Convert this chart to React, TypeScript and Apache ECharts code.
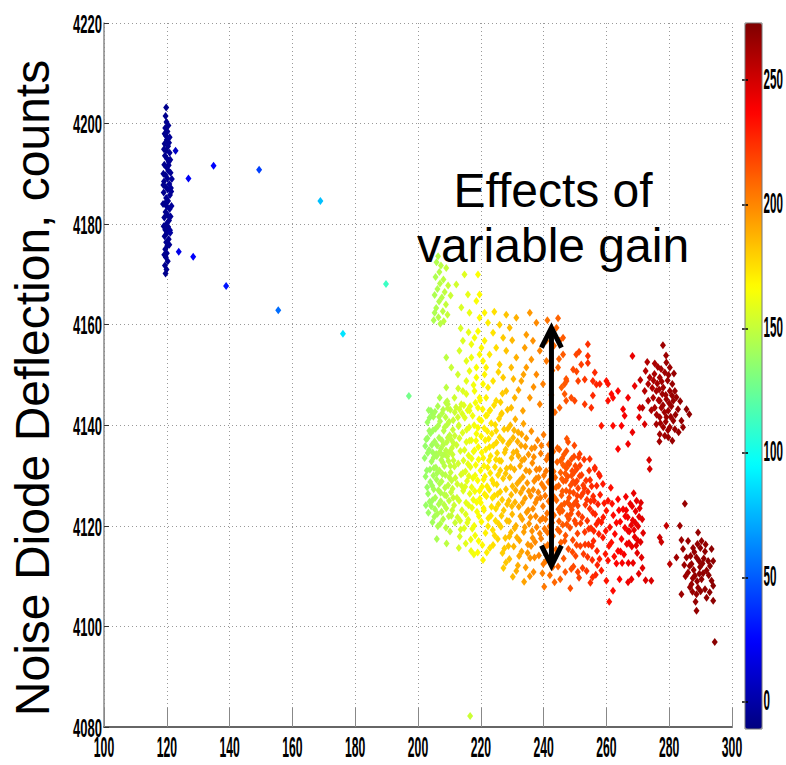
import React, { useEffect, useRef } from 'react';
import * as echarts from 'echarts';

// ---------- data: [x (gain-related), noise diode deflection (counts), colour value] ----------
const blueCluster = [
  [119.8,4203.2,-7],[119.6,4201.5,-7],[119.9,4200.3,-6],[119.5,4199.1,-7],[120.2,4198.4,-6],[119.7,4197.6,-7],[120.0,4196.8,-6],[119.3,4196.0,-7],
  [120.4,4195.5,-6],[119.8,4194.7,-7],[120.9,4194.2,-5],[119.4,4193.6,-7],[120.1,4193.0,-6],[120.6,4192.4,-6],[119.2,4191.8,-7],[119.9,4191.3,-6],
  [120.5,4190.6,-6],[121.2,4190.2,-5],[119.6,4189.7,-7],[120.2,4189.1,-6],[119.1,4188.5,-7],[120.8,4188.0,-5],[119.7,4187.4,-7],[120.3,4186.9,-6],
  [119.0,4186.3,-7],[121.0,4185.8,-5],[119.8,4185.2,-6],[120.4,4184.6,-6],[119.4,4184.1,-7],[120.0,4183.5,-6],[120.9,4183.0,-5],[119.6,4182.4,-7],
  [120.3,4181.8,-6],[119.2,4181.3,-7],[120.7,4180.7,-6],[119.9,4180.1,-6],[120.4,4179.5,-6],[119.5,4178.9,-7],[120.1,4178.3,-6],[119.3,4177.6,-7],
  [120.6,4177.0,-6],[119.8,4176.4,-6],[120.2,4175.7,-6],[119.5,4175.0,-7],[120.0,4174.2,-6],[119.7,4173.4,-7],[120.3,4172.6,-6],[119.4,4171.8,-7],
  [119.9,4171.0,-6],[119.6,4170.2,-7],[120.5,4199.6,-6],[119.3,4198.0,-7],[120.7,4196.2,-6],[121.1,4192.8,-5],[118.9,4190.0,-7],[121.3,4187.2,-5],
  [118.8,4184.0,-7],[121.2,4181.5,-5],[119.0,4179.6,-7],[120.8,4175.9,-6],[121.4,4186.5,-5],[120.6,4191.7,-6],[119.1,4194.9,-7],[121.6,4189.0,-4],
  [121.5,4183.6,-4],[118.9,4187.8,-7],[121.0,4178.8,-5],[119.2,4173.9,-7],[120.9,4197.3,-5]
];

const sparsePoints = [
  [122.8,4194.6,8],[126.9,4189.1,22],[134.9,4191.6,25],[149.4,4190.8,42],[168.9,4184.6,78],[121.1,4178.3,-2],
  [123.8,4174.5,18],[128.4,4173.5,24],[138.9,4167.7,30],[155.5,4162.9,55],[176.1,4158.2,88],[189.8,4168.1,112],
  [197.1,4145.8,128],[216.6,4082.2,152]
];

const greenTail = [
  [206.4,4173.6,146],[205.9,4172.4,145],[207.3,4171.8,147],[209.0,4171.3,150],[206.8,4170.5,146],[205.6,4169.5,144],[208.1,4169.0,148],[207.0,4168.2,147],
  [209.6,4167.8,151],[206.2,4167.1,145],[208.5,4166.5,149],[205.3,4165.9,144],[207.6,4165.4,147],[210.4,4165.8,152],[206.7,4164.6,146],[208.9,4164.0,150],
  [205.8,4163.3,145],[207.9,4162.7,148],[205.3,4162.4,144],[209.4,4162.0,151],[206.5,4161.5,146],[208.2,4160.7,149],[207.1,4160.2,147],[205.0,4160.9,144]
];

const upperFan = [
  [214.8,4170.0,158],[219.1,4170.0,166],[212.2,4168.0,154],[215.9,4166.0,160],[219.6,4166.0,167],[218.6,4164.7,165],[213.8,4163.4,156],[216.4,4162.4,161],
  [219.6,4161.4,167],[221.2,4162.4,169],[219.1,4158.7,166],[228.1,4162.0,183],[231.3,4161.4,188],[235.6,4162.4,195],[237.7,4160.4,199],[244.6,4161.3,210],
  [226.0,4160.0,179],[229.2,4159.4,185],[222.3,4160.4,171],[223.9,4158.4,174],[227.1,4157.4,181],[221.2,4156.8,169],[224.9,4155.4,176],[228.1,4154.8,183],
  [222.8,4154.1,172],[219.6,4154.1,167],[217.0,4156.1,162],[214.3,4156.8,157],[213.2,4154.8,155],[215.4,4152.8,159],[218.6,4151.5,165],[221.7,4151.5,170],
  [226.0,4152.1,179],[229.7,4151.5,185],[231.3,4153.5,188],[234.5,4158.0,194],[236.6,4156.8,197],[234.0,4155.4,193],[238.8,4154.8,201],[240.9,4156.8,204],
  [244.1,4159.4,209],[245.1,4156.8,211],[236.1,4153.1,196],[240.9,4152.8,204],[246.2,4154.1,212],[234.5,4151.5,194],[237.7,4150.1,199],[244.6,4151.5,210],
  [232.9,4148.8,191],[239.8,4148.2,202],[247.3,4148.8,214],[235.6,4145.5,195],[238.8,4144.2,201],[233.4,4142.9,192],[245.7,4147.5,211],[246.7,4146.2,213],
  [245.1,4143.5,211],[227.1,4149.5,181],[223.9,4148.8,174],[220.7,4148.2,168],[228.1,4146.8,183],[230.8,4145.5,187],[224.9,4144.9,176],[221.7,4145.5,170],
  [218.0,4146.8,164],[215.4,4148.8,159],[212.7,4150.1,154],[210.6,4151.5,151],[209.0,4153.5,148],[214.3,4146.8,157],[211.6,4145.5,153],[209.0,4147.5,148],
  [206.9,4145.5,145],[209.5,4144.2,149],[204.7,4142.2,141],[203.7,4141.5,139],[219.1,4143.5,166],[216.4,4142.9,161],[213.2,4143.2,155],[222.8,4142.9,172],
  [226.5,4142.2,180],[229.7,4143.5,185],[218.0,4157.4,164],[220.2,4155.4,168],[217.0,4153.5,162],[220.7,4152.8,168],[218.6,4149.5,165],[216.4,4150.8,161],
  [219.6,4145.5,167],[221.2,4150.1,169],[215.4,4146.2,159],[222.3,4147.5,171],[232.0,4147.0,190],[236.8,4147.6,197],[225.6,4150.6,178],[230.4,4149.2,186],
  [242.5,4146.0,207],[242.8,4150.9,207],[243.6,4142.6,208],[241.2,4160.9,205],[242.0,4158.3,206],[243.3,4155.8,208],[244.9,4153.2,210],
  [213.6,4159.3,156],[216.1,4158.5,160],[224.3,4162.6,175],[230.0,4156.9,186],[217.7,4148.0,163],[212.8,4147.3,154],[226.9,4146.3,181],[233.6,4150.1,192]
];

const greenCore = [
  [202.1,4133.5,137],[202.6,4137.2,138],[202.4,4129.8,138],[203.0,4140.6,139],[203.2,4126.4,139],[203.5,4135.1,139],[203.8,4131.2,140],[203.4,4143.0,139],
  [204.0,4138.4,140],[204.2,4123.9,141],[204.5,4128.0,141],[204.7,4134.6,141],[204.9,4141.7,142],[205.1,4131.5,142],[205.3,4136.8,142],[205.5,4125.6,143],
  [205.6,4139.3,143],[205.9,4129.2,143],[206.0,4133.9,143],[206.2,4122.4,144],[206.3,4143.8,144],[206.5,4127.1,144],[206.7,4137.5,144],[206.8,4131.0,145],
  [207.0,4140.8,145],[207.2,4124.9,145],[207.3,4135.4,145],[207.5,4128.8,146],[207.7,4142.4,146],[207.9,4132.6,146],[208.0,4121.3,146],[208.2,4138.9,147],
  [208.4,4126.2,147],[208.5,4134.3,147],[208.7,4130.1,147],[208.9,4144.5,148],[209.0,4123.5,148],[209.2,4136.7,148],[209.4,4140.2,148],[209.6,4128.1,149],
  [209.7,4132.9,149],[209.9,4125.0,149],[210.1,4138.0,150],[210.3,4143.1,150],[210.4,4130.6,150],[210.6,4122.0,150],[210.8,4135.5,151],[211.0,4127.4,151],
  [211.2,4141.0,151],[211.3,4133.0,151],[211.5,4124.1,152],[211.7,4137.9,152],[211.9,4129.5,152],[203.9,4128.7,140],[204.3,4132.8,141],[205.0,4127.3,142],
  [205.8,4134.3,143],[206.4,4139.9,144],[206.9,4128.4,145],[207.6,4137.0,146],[208.3,4124.2,147],[208.8,4141.6,148],[209.3,4133.8,148],[209.8,4121.9,149],
  [210.5,4126.7,150],[211.1,4139.1,151],[211.6,4131.8,152],[203.6,4138.9,140],[204.6,4125.1,141],[205.4,4142.7,142],[206.1,4130.5,143],[206.6,4124.3,144],
  [207.4,4133.1,146],[208.1,4136.2,147],[208.6,4127.6,147],[209.5,4143.4,149],[210.0,4134.7,149],[210.7,4129.0,150],[211.4,4136.4,151],[202.8,4131.0,138],
  [203.1,4134.5,139],[204.8,4139.0,141],[205.2,4121.8,142],[207.1,4120.4,145],[208.9,4119.6,148],[210.2,4118.9,150],[211.8,4120.6,152],[206.0,4117.4,143],
  [209.1,4116.5,148],[204.4,4136.1,141],[207.8,4130.3,146],[209.5,4137.5,149],[206.9,4134.7,145],[205.7,4131.6,143],[208.5,4139.6,147],[210.9,4123.1,151],
  [203.3,4122.6,139],[202.3,4135.9,137],[202.9,4127.7,138],[203.7,4124.8,140],[204.1,4142.9,140],[204.9,4130.0,142],[205.4,4123.3,142],[206.1,4136.0,143],
  [206.7,4141.7,144],[207.2,4126.6,145],[207.8,4134.0,146],[208.4,4131.9,147],[209.0,4126.0,148],[209.3,4144.8,148],[210.0,4129.6,149],[210.6,4137.1,150],
  [211.2,4125.6,151],[211.7,4142.6,152],[203.0,4137.4,139],[204.6,4120.7,141],[206.3,4119.9,144],[208.0,4143.1,146],[209.9,4140.7,149],[211.0,4134.2,151],
  [205.0,4133.6,142],[207.5,4122.8,146],[210.3,4131.9,150],[202.5,4124.1,138],[208.9,4135.0,148]
];

const yellowCore = [
  [212.1,4143.6,153],[212.3,4136.1,153],[212.5,4128.3,154],[212.6,4121.7,154],[212.8,4132.4,154],[213.0,4140.0,155],[213.1,4125.0,155],[213.3,4117.9,155],
  [213.5,4134.9,156],[213.7,4130.2,156],[213.8,4144.2,156],[214.0,4123.1,156],[214.2,4138.5,157],[214.4,4127.0,157],[214.5,4133.0,157],[214.7,4119.5,158],
  [214.9,4141.5,158],[215.1,4130.8,158],[215.3,4124.6,159],[215.4,4136.7,159],[215.6,4128.9,159],[215.8,4143.0,160],[216.0,4121.2,160],[216.1,4134.0,160],
  [216.3,4139.6,161],[216.5,4126.4,161],[216.7,4131.7,161],[216.8,4117.3,162],[217.0,4137.0,162],[217.2,4123.6,162],[217.4,4141.9,163],[217.5,4129.5,163],
  [217.7,4134.8,163],[217.9,4120.0,164],[218.1,4126.9,164],[218.3,4144.5,164],[218.4,4132.1,165],[218.6,4138.3,165],[218.8,4122.8,165],[219.0,4129.0,166],
  [219.2,4135.7,166],[219.3,4117.0,166],[219.5,4141.2,167],[219.7,4125.4,167],[219.9,4131.0,167],[220.1,4137.8,168],[220.2,4120.8,168],[220.4,4127.8,168],
  [220.6,4143.2,169],[220.8,4133.5,169],[220.9,4123.5,169],[221.1,4139.4,170],[221.3,4129.8,170],[221.5,4118.6,170],[221.6,4135.2,171],[221.8,4125.9,171],
  [222.0,4142.0,171],[222.2,4131.6,172],[222.4,4121.5,172],[222.5,4137.3,172],[222.7,4127.2,173],[222.9,4115.6,173],[223.1,4133.9,173],[223.3,4140.4,174],
  [223.4,4123.8,174],[223.6,4129.1,174],[223.8,4119.2,175],[224.0,4136.0,175],[224.2,4144.0,175],[224.3,4126.0,176],[224.5,4131.7,176],[224.7,4121.0,176],
  [224.9,4138.9,177],[225.1,4128.2,177],[225.2,4134.5,177],[225.4,4117.4,177],[225.6,4124.3,178],[225.8,4141.3,178],[212.9,4139.8,154],[213.9,4128.0,156],
  [214.8,4135.1,158],[215.7,4120.6,159],[216.6,4143.8,161],[217.6,4125.2,163],[218.5,4136.9,165],[219.4,4121.9,166],[220.3,4134.6,168],[221.2,4126.3,170],
  [222.1,4138.8,171],[223.0,4130.5,173],[223.9,4116.2,175],[224.8,4133.2,176],[225.7,4120.4,178],[213.4,4121.0,155],[214.1,4142.3,157],[215.0,4127.8,158],
  [216.2,4129.9,160],[217.1,4133.4,162],[218.2,4118.1,164],[219.1,4139.5,166],[220.0,4124.6,167],[221.0,4131.9,169],[221.9,4114.7,171],[222.8,4135.7,173],
  [223.7,4125.6,174],[224.6,4140.1,176],[225.5,4130.1,177],[217.8,4114.3,163],[220.7,4113.2,169],[215.2,4116.5,159],[219.8,4145.0,167],
  [212.4,4125.6,153],[212.7,4141.6,154],[213.2,4137.4,155],[213.6,4119.3,156],[214.3,4130.5,157],[214.6,4144.0,158],[215.2,4122.3,158],[215.5,4139.1,159],
  [216.1,4124.1,160],[216.4,4136.9,161],[217.1,4127.7,162],[217.3,4119.4,162],[217.9,4140.0,164],[218.2,4130.0,164],[218.7,4124.7,165],[219.3,4133.2,166],
  [219.6,4127.0,167],[220.2,4140.9,168],[220.5,4116.2,168],[221.0,4123.1,169],[221.4,4137.0,170],[222.0,4127.9,171],[222.3,4119.9,172],[222.6,4133.0,172],
  [223.2,4122.0,173],[223.5,4138.3,174],[224.1,4128.4,175],[224.4,4118.1,176],[225.0,4136.6,177],[225.3,4126.3,177],[225.9,4133.0,178],[213.0,4115.6,155],
  [216.9,4115.0,162],[219.0,4114.7,166],[223.0,4143.0,173],[215.9,4132.3,160],[218.0,4135.0,164],[221.6,4141.9,171],[224.8,4123.4,176],[220.9,4129.2,169]
];

const orangeYellowCore = [
  [226.0,4137.6,178],[226.2,4126.8,179],[226.4,4119.8,179],[226.5,4132.9,179],[226.7,4142.4,180],[226.9,4114.6,180],[227.1,4129.4,180],[227.3,4123.1,181],
  [227.4,4139.2,181],[227.6,4134.6,181],[227.8,4117.6,182],[228.0,4127.3,182],[228.2,4131.4,182],[228.3,4121.0,183],[228.5,4143.1,183],[228.7,4136.3,183],
  [228.9,4125.0,184],[229.1,4113.4,184],[229.2,4129.6,184],[229.4,4140.0,185],[229.6,4118.7,185],[229.8,4133.5,185],[230.0,4122.3,186],[230.1,4127.9,186],
  [230.3,4137.5,186],[230.5,4115.9,187],[230.7,4131.2,187],[230.9,4124.7,187],[231.0,4141.2,188],[231.2,4120.0,188],[231.4,4134.8,188],[231.6,4128.4,189],
  [231.8,4112.1,189],[231.9,4138.6,189],[232.1,4123.8,190],[232.3,4117.1,190],[232.5,4131.9,190],[232.7,4126.6,191],[232.8,4136.0,191],[233.0,4114.9,191],
  [233.2,4121.3,192],[233.4,4129.7,192],[233.6,4140.3,192],[233.7,4118.8,193],[233.9,4133.3,193],[234.1,4125.5,193],[234.3,4111.7,194],[234.5,4137.4,194],
  [234.6,4122.7,194],[234.8,4128.5,195],[235.0,4116.3,195],[235.2,4134.2,195],[235.4,4120.4,196],[235.5,4130.8,196],[235.7,4113.6,196],[235.9,4126.0,197],
  [236.1,4138.8,197],[236.3,4119.0,197],[236.4,4132.5,198],[236.6,4123.4,198],[236.8,4110.8,198],[237.0,4128.9,198],[237.2,4135.6,199],[237.3,4116.8,199],
  [237.5,4121.9,199],[237.7,4131.2,200],[237.9,4125.3,200],[226.8,4125.2,180],[227.9,4135.2,182],[228.8,4116.0,183],[229.7,4126.2,185],[230.6,4139.0,187],
  [231.5,4117.7,188],[232.4,4129.0,190],[233.3,4124.6,192],[234.2,4135.8,193],[235.1,4123.1,195],[236.0,4116.0,197],[236.9,4133.7,198],[237.8,4119.7,200],
  [227.2,4111.6,181],[230.2,4109.9,186],[233.8,4108.9,192],[226.3,4144.6,179],[229.0,4120.9,184],[232.0,4133.9,189],
  [226.2,4131.0,179],[226.6,4122.0,180],[227.0,4136.9,180],[227.5,4115.5,181],[227.9,4130.4,182],[228.4,4124.3,183],[228.6,4139.3,183],[229.1,4117.9,184],
  [229.5,4131.7,185],[229.9,4123.9,185],[230.4,4134.6,186],[230.8,4119.5,187],[231.1,4127.1,188],[231.7,4136.8,189],[232.2,4114.0,190],[232.6,4121.9,190],
  [233.1,4133.0,191],[233.5,4127.5,192],[234.0,4119.7,193],[234.4,4131.0,194],[234.9,4114.6,195],[235.3,4126.9,195],[235.8,4121.7,196],[236.2,4135.4,197],
  [236.7,4127.2,198],[237.1,4113.7,198],[237.6,4129.4,199],[237.4,4124.6,199],[228.0,4112.7,182],[231.3,4111.0,188],[235.6,4110.0,196],[229.3,4136.8,184],
  [233.0,4138.2,191],[236.5,4117.6,197]
];

const orangeCore = [
  [238.1,4137.0,200],[238.3,4126.7,200],[238.5,4114.1,201],[238.7,4131.3,201],[238.9,4121.1,201],[239.1,4134.4,202],[239.2,4117.5,202],[239.4,4128.3,202],
  [239.6,4110.6,202],[239.8,4123.9,203],[240.0,4138.1,203],[240.1,4130.0,203],[240.3,4119.4,204],[240.5,4126.0,204],[240.7,4113.0,204],[240.9,4133.2,205],
  [241.1,4122.5,205],[241.3,4116.2,205],[241.5,4128.7,206],[241.7,4136.2,206],[241.9,4119.9,206],[242.0,4110.2,206],[242.2,4124.8,207],[242.4,4131.5,207],
  [242.6,4114.6,207],[242.8,4127.4,208],[243.0,4118.0,208],[243.1,4134.8,208],[243.3,4122.1,208],[243.5,4108.8,209],[243.7,4129.6,209],[243.9,4115.3,209],
  [244.1,4125.1,209],[244.3,4132.7,210],[244.5,4119.3,210],[244.6,4111.9,210],[244.8,4128.0,210],[245.0,4135.2,211],[245.2,4122.7,211],[245.4,4130.6,211],
  [245.5,4116.7,211],[245.7,4126.1,212],[245.9,4133.4,212],[246.1,4120.2,212],[246.3,4128.9,213],[246.4,4113.5,213],[246.6,4124.4,213],[246.8,4131.8,213],
  [247.0,4118.1,214],[247.2,4127.0,214],[247.3,4134.9,214],[247.5,4122.0,214],[247.7,4129.8,215],[247.9,4115.4,215],[248.1,4125.6,215],[248.2,4132.3,215],
  [248.4,4119.6,216],[248.6,4128.1,216],[248.8,4111.4,216],[249.0,4123.2,216],[249.1,4130.9,217],[249.3,4117.2,217],[249.5,4126.6,217],[249.7,4133.8,217],
  [249.9,4121.0,218],[250.0,4128.4,218],[250.2,4114.0,218],[250.4,4124.9,218],[250.6,4131.3,219],[250.8,4118.5,219],[251.0,4127.5,219],[251.1,4122.4,219],
  [251.3,4109.7,220],[251.5,4129.9,220],[251.7,4116.0,220],[251.9,4125.9,220],[245.6,4124.0,212],[246.9,4130.4,213],[248.0,4121.4,215],[249.4,4128.8,217],
  [250.7,4126.0,219],[246.2,4132.1,212],[247.6,4124.7,214],[248.9,4133.3,216],[250.3,4120.4,218],[251.6,4132.0,220],[239.0,4125.6,202],[240.6,4121.3,204],
  [242.1,4129.1,207],[243.4,4125.7,208],[244.9,4120.9,211],[241.4,4133.9,206],[240.2,4107.9,204],[245.3,4109.4,211],[248.5,4107.6,216],[250.9,4110.8,219],
  [247.8,4136.7,215],[249.8,4136.0,217],
  [238.4,4129.6,200],[238.8,4118.5,201],[239.3,4136.0,202],[239.7,4121.5,203],[240.2,4127.6,203],[240.4,4115.8,204],[240.8,4130.9,204],[241.2,4118.7,205],
  [241.6,4124.9,206],[242.3,4134.0,207],[242.7,4120.6,207],[243.2,4130.8,208],[243.6,4113.7,209],[244.0,4127.7,209],[244.4,4135.5,210],[244.7,4123.3,210],
  [245.1,4118.9,211],[245.8,4129.3,212],[246.0,4123.0,212],[246.5,4134.2,213],[246.7,4117.0,213],[247.1,4129.0,214],[247.4,4120.3,214],[247.8,4132.5,215],
  [248.3,4126.8,215],[248.7,4122.4,216],[248.9,4130.0,216],[249.2,4114.8,217],[249.6,4124.3,217],[250.1,4131.9,218],[250.5,4116.2,218],[250.9,4124.0,219],
  [251.2,4133.6,219],[251.8,4120.5,220],[246.0,4126.9,212],[247.3,4131.5,214],[248.5,4124.0,216],[249.7,4130.6,217],[250.6,4128.9,219],[245.4,4133.0,211],
  [242.9,4111.8,208],[246.9,4110.8,213],[249.5,4111.9,217],[239.9,4112.4,203]
];

const orangeRed = [
  [252.1,4130.1,220],[252.3,4121.7,221],[252.5,4126.5,221],[252.7,4114.4,221],[252.9,4133.2,222],[253.1,4118.8,222],[253.3,4124.2,222],[253.5,4129.0,223],
  [253.7,4111.0,223],[253.9,4121.0,223],[254.1,4126.8,224],[254.3,4116.3,224],[254.5,4131.0,224],[254.7,4123.4,225],[254.9,4108.7,225],[255.1,4119.5,225],
  [255.3,4127.9,226],[255.5,4113.2,226],[255.7,4122.6,226],[255.9,4117.0,227],[256.1,4125.0,227],[256.3,4131.6,227],[256.6,4110.3,228],[256.8,4120.3,228],
  [257.0,4115.0,228],[257.3,4124.3,229],[257.6,4118.4,229],[257.9,4129.9,229],[253.0,4127.5,222],[254.0,4113.8,223],[255.0,4124.9,225],[256.0,4119.0,227],
  [257.1,4112.2,228],[252.6,4128.1,221],[253.2,4116.3,222],[253.8,4125.2,223],[254.4,4119.4,224],[254.8,4129.1,225],[255.4,4116.0,226],[255.8,4125.9,226],
  [256.4,4122.3,227],[256.9,4128.0,228],[257.5,4121.0,229],[257.8,4113.4,229],[252.4,4111.6,221],[255.6,4109.8,226]
];

const redTail = [
  [258.4,4120.7,230],[258.9,4128.3,231],[258.9,4117.7,231],[258.4,4111.1,230],[259.3,4124.5,231],[259.7,4114.4,232],[260.0,4123.0,232],[260.0,4109.1,232],
  [260.5,4125.0,233],[260.5,4113.1,233],[261.1,4119.7,234],[261.4,4127.6,234],[261.6,4116.7,234],[262.1,4107.1,235],[262.2,4122.1,235],[262.7,4118.4,236],
  [263.2,4112.5,237],[263.7,4125.3,237],[263.7,4115.0,237],[264.2,4109.4,238],[264.4,4120.8,238],[264.8,4117.4,239],[265.3,4123.3,239],[265.6,4114.3,240],
  [265.9,4119.6,240],[266.2,4125.8,241],[266.5,4116.4,241],[266.8,4121.7,241],[267.0,4112.6,242],[267.3,4118.9,242],[267.6,4124.4,242],[268.0,4109.4,243],
  [268.1,4115.9,243],[268.4,4121.1,243],[268.7,4126.5,244],[269.0,4117.8,244],[269.3,4122.9,244],[269.6,4125.0,244],[269.8,4114.6,245],[270.1,4119.9,245],
  [270.3,4110.5,245],[270.6,4123.5,245],[270.9,4116.8,246],[271.2,4113.7,246],[271.4,4121.3,246],[271.7,4118.6,246],[271.5,4111.6,246],[272.5,4109.2,247],
  [274.3,4109.1,248],[266.9,4108.8,242],[260.9,4104.9,234],[266.3,4123.1,241],[268.8,4119.2,244],[270.4,4121.8,245],[267.9,4120.1,243],[269.5,4116.1,245],
  [277.0,4117.7,252],[277.5,4116.8,252],[279.1,4120.0,254],[280.2,4112.4,256],
  [258.0,4126.2,230],[259.0,4121.7,231],[259.8,4119.0,232],[260.8,4116.0,233],[261.8,4124.4,234],[262.5,4113.9,235],[263.2,4120.6,236],[264.0,4123.1,237],
  [265.0,4112.6,239],[266.0,4121.9,240],[267.2,4116.6,242],[268.2,4123.9,243],[269.2,4120.6,244],[270.0,4117.1,245],[271.0,4124.6,246],[266.9,4119.0,242],
  [268.5,4112.6,243],[264.5,4114.9,238]
];

const upperBranch = [
  [246.2,4157.4,212],[254.1,4156.1,224],[250.4,4154.1,218],[251.3,4154.6,219],[254.1,4153.8,224],[249.4,4151.1,217],[250.5,4150.7,218],[252.0,4152.1,220],
  [254.1,4152.4,224],[256.3,4150.5,226],[247.2,4149.2,214],[251.0,4148.8,219],[253.1,4149.1,222],[255.7,4148.8,226],[256.8,4148.1,227],[246.7,4148.2,213],
  [247.2,4144.9,214],[248.8,4145.5,216],[249.9,4144.9,218],[253.1,4144.2,222],[255.2,4143.5,225],[255.7,4145.9,226],[260.0,4148.8,233],[260.5,4148.2,233],
  [261.6,4146.2,235],[263.7,4146.8,237],[262.1,4145.5,235],[260.5,4144.9,233],[266.9,4145.5,241],[269.0,4147.8,243],[268.3,4153.8,243],[265.3,4143.2,240],
  [265.8,4141.9,240],[258.4,4139.9,231],[262.1,4139.9,235],[264.8,4139.9,238],[268.3,4138.6,243],[263.7,4135.3,237],[266.9,4136.3,241],[270.6,4143.5,246],
  [270.4,4141.6,245],[272.2,4140.2,248],[273.6,4133.1,249],[273.8,4131.3,249],[247.4,4137.3,214],[251.5,4134.3,220],[254.7,4133.3,224],[256.3,4131.3,227],
  [257.6,4130.3,229],[257.9,4148.2,229]
];

const darkRedUpper = [
  [278.0,4155.9,264],[273.0,4152.6,259],[275.4,4152.3,261],[279.1,4152.5,265],[280.2,4151.5,265],[272.5,4150.8,258],[273.8,4149.5,260],[277.0,4149.5,263],
  [278.6,4150.5,264],[273.3,4148.2,259],[272.2,4146.8,258],[275.9,4146.8,262],[278.1,4147.5,264],[280.2,4146.8,265],[281.8,4146.8,266],[274.9,4145.5,261],
  [277.0,4144.9,263],[279.1,4145.2,265],[281.3,4144.9,266],[273.3,4144.9,259],[275.4,4143.5,261],[277.5,4143.5,263],[279.7,4142.9,265],[282.8,4143.2,267],
  [285.5,4143.2,268],[286.4,4142.2,268],[277.0,4141.6,263],[279.1,4141.6,265],[281.3,4140.9,266],[275.9,4140.2,262],[278.1,4139.6,264],[280.2,4139.6,265],
  [283.9,4140.9,267],[284.4,4139.6,267],[281.8,4139.2,266],[277.0,4138.2,263],[278.6,4137.9,264],[279.7,4137.6,265],[281.0,4136.9,266],[276.2,4148.3,262],
  [277.8,4146.2,264],[279.5,4148.9,265],[280.7,4143.8,266],[276.6,4145.0,262],[278.5,4142.6,264],[280.0,4144.4,265],[277.4,4151.2,263],[279.8,4150.0,265],
  [276.0,4142.1,262],[278.9,4140.7,264],[282.3,4145.6,266],[274.6,4147.4,260],[281.0,4148.2,266],[275.3,4150.2,261],[283.0,4138.6,267],[270.8,4149.0,256],
  [271.5,4143.5,257],[276.8,4147.1,263],[278.9,4146.0,264],[277.2,4140.4,263],[280.5,4141.7,265],[279.0,4153.9,265],[276.4,4151.6,262],[282.0,4142.1,266],
  [274.3,4143.0,260],[278.0,4144.0,264],[281.5,4150.3,266],[275.0,4148.9,261],[279.6,4139.0,265],[277.6,4148.7,263],[280.9,4145.9,266],[283.5,4144.8,267],
  [276.9,4136.8,263]
];

const darkRedLower = [
  [289.2,4118.7,267],[283.9,4117.2,265],[286.0,4117.0,266],[290.3,4117.0,268],[293.5,4115.4,269],[291.4,4114.9,268],[284.4,4115.4,265],[287.6,4115.6,267],
  [282.3,4113.7,264],[285.5,4113.7,266],[288.7,4113.7,267],[292.4,4113.0,269],[294.0,4113.0,269],[287.1,4112.4,266],[289.8,4111.8,268],[291.9,4111.1,268],
  [286.0,4110.7,266],[288.2,4110.1,267],[290.3,4109.4,268],[293.5,4109.1,269],[294.0,4108.1,270],[287.1,4108.4,266],[289.2,4107.7,267],[291.4,4107.4,268],
  [283.9,4106.4,265],[288.7,4106.4,267],[291.9,4105.7,268],[294.0,4105.1,269],[288.7,4103.1,267],[288.0,4114.8,267],[289.5,4113.0,268],[287.8,4111.2,266],
  [290.6,4112.5,268],[288.9,4109.0,267],[286.8,4114.0,266],[289.9,4115.6,268],[287.4,4106.9,266],[290.8,4110.6,268],[294.5,4096.9,270],[285.0,4124.4,266],
  [283.4,4120.0,265],[286.5,4112.0,266],[289.0,4116.4,267],[291.0,4113.5,268],[287.5,4109.6,266],[290.0,4107.0,268],[292.6,4110.2,269],[288.4,4104.9,267],
  [285.2,4110.0,265],[289.6,4110.5,268],[292.9,4106.8,269],[286.6,4107.8,266],[291.6,4116.3,268],[284.8,4112.2,265],[293.0,4112.0,269]
];

// axis tick values (labels drawn at these values through the axes' own scales)
const xTicks = [100, 120, 140, 160, 180, 200, 220, 240, 260, 280, 300];
const yTicks = [4080, 4100, 4120, 4140, 4160, 4180, 4200, 4220];
const colorTicks = [0, 50, 100, 150, 200, 250];
const colorRange = [-11, 273];
const arrowSpan = [[242.5, 4159.4, 4112.1]];

const jet = ['#00007f', '#0000ff', '#007fff', '#00ffff', '#7fff7f', '#ffff00', '#ff7f00', '#ff0000', '#7f0000'];
const labelFont = "'Liberation Sans', Arial, sans-serif";

function tickText(text: string, x: number, y: number, size: number, sx: number, align: string) {
  return {
    type: 'text', x, y, scaleX: sx,
    style: {
      text, fill: '#000', fontSize: size, fontWeight: 'bold', fontFamily: labelFont,
      textAlign: align, textVerticalAlign: 'middle',
    },
  };
}

export default function App() {
  const ref = useRef<HTMLDivElement>(null);
  useEffect(() => {
    const chart = echarts.init(ref.current as HTMLDivElement, null, { renderer: 'svg' });
    const points = [
      ...blueCluster, ...sparsePoints, ...greenTail, ...upperFan, ...greenCore, ...yellowCore,
      ...orangeYellowCore, ...orangeCore, ...orangeRed, ...redTail, ...upperBranch, ...darkRedUpper, ...darkRedLower,
    ];
    chart.setOption({
      animation: false,
      backgroundColor: '#fff',
      grid: [
        { left: 104, top: 23, width: 628, height: 704 },
        { left: 745, top: 23, width: 17, height: 706 },
      ],
      xAxis: [
        {
          type: 'value', gridIndex: 0, min: 100, max: 300, interval: 20,
          axisLine: { show: true, lineStyle: { color: '#666', width: 2 } },
          axisTick: { show: true, inside: true, length: 19, lineStyle: { color: '#888', width: 1 } },
          axisLabel: { show: false },
          splitLine: { show: true, lineStyle: { color: '#999', type: [1, 3], width: 1 } },
        },
        { type: 'value', gridIndex: 1, min: 0, max: 1, show: false },
      ],
      yAxis: [
        {
          type: 'value', gridIndex: 0, min: 4080, max: 4220, interval: 20,
          axisLine: { show: true, lineStyle: { color: '#888', width: 1.5 } },
          axisTick: { show: true, inside: true, length: 5, lineStyle: { color: '#333', width: 1 } },
          axisLabel: { show: false },
          splitLine: { show: true, lineStyle: { color: '#999', type: [1, 3], width: 1 } },
        },
        {
          type: 'value', gridIndex: 1, position: 'right', min: colorRange[0], max: colorRange[1], z: 10,
          axisLine: { show: false },
          axisTick: { show: true, inside: true, length: 3, customValues: colorTicks, lineStyle: { color: '#000', width: 1.5 } },
          axisLabel: { show: false },
          splitLine: { show: false },
        },
        {
          type: 'value', gridIndex: 1, position: 'left', min: colorRange[0], max: colorRange[1], z: 10,
          axisLine: { show: false },
          axisTick: { show: true, inside: true, length: 3, customValues: colorTicks, lineStyle: { color: '#000', width: 1.5 } },
          axisLabel: { show: false },
          splitLine: { show: false },
        },
      ],
      visualMap: {
        type: 'continuous', seriesIndex: 0, dimension: 2, min: colorRange[0], max: colorRange[1],
        inRange: { color: jet }, left: 745, top: 23, itemWidth: 17, itemHeight: 706, padding: 0,
        calculable: false, hoverLink: false, text: null, orient: 'vertical',
      },
      series: [
        {
          type: 'scatter', xAxisIndex: 0, yAxisIndex: 0, data: points, symbol: 'diamond',
          symbolSize: [6, 8], silent: true, itemStyle: { opacity: 1 },
        },
        {
          type: 'custom', xAxisIndex: 0, yAxisIndex: 0, data: arrowSpan, silent: true, z: 10,
          renderItem: (_params: any, api: any) => {
            const top = api.coord([api.value(0), api.value(1)]);
            const bot = api.coord([api.value(0), api.value(2)]);
            const style = { stroke: '#000', lineWidth: 5, fill: 'none', lineJoin: 'miter' };
            return {
              type: 'group',
              children: [
                { type: 'line', shape: { x1: top[0], y1: top[1] + 2, x2: bot[0], y2: bot[1] - 2 }, style },
                { type: 'polyline', shape: { points: [[top[0] - 10, top[1] + 20], [top[0], top[1]], [top[0] + 10, top[1] + 20]] }, style },
                { type: 'polyline', shape: { points: [[bot[0] - 10, bot[1] - 20], [bot[0], bot[1]], [bot[0] + 10, bot[1] - 20]] }, style },
              ],
            };
          },
        },
        {
          // x tick labels (tall, condensed like the original figure)
          type: 'custom', xAxisIndex: 0, yAxisIndex: 0, data: xTicks.map((v) => [v, yTicks[0]]), silent: true, z: 10,
          renderItem: (_params: any, api: any) => {
            const p = api.coord([api.value(0), api.value(1)]);
            return tickText(String(api.value(0)), p[0], p[1] + 20, 29, 0.42, 'center');
          },
        },
        {
          // y tick labels
          type: 'custom', xAxisIndex: 0, yAxisIndex: 0, data: yTicks.map((v) => [xTicks[0], v]), silent: true, z: 10,
          renderItem: (_params: any, api: any) => {
            const p = api.coord([api.value(0), api.value(1)]);
            return tickText(String(api.value(1)), p[0] - 2, p[1] + 1, 25, 0.52, 'right');
          },
        },
        {
          // colour-bar tick labels
          type: 'custom', xAxisIndex: 1, yAxisIndex: 1, data: colorTicks.map((v) => [1, v]), silent: true, z: 10,
          renderItem: (_params: any, api: any) => {
            const p = api.coord([api.value(0), api.value(1)]);
            return tickText(String(api.value(1)), p[0] + 1.5, p[1] - 1.5, 29, 0.4, 'left');
          },
        },
      ],
      graphic: [
        {
          type: 'text', x: 32, y: 388, rotation: Math.PI / 2,
          style: {
            text: 'Noise Diode Deflection, counts', fill: '#000', fontSize: 48,
            fontFamily: labelFont, textAlign: 'center', textVerticalAlign: 'middle',
          },
        },
        {
          type: 'text', x: 553, y: 163, z: 20,
          style: {
            text: 'Effects of\nvariable gain', fill: '#000', fontSize: 48, lineHeight: 55,
            fontFamily: labelFont, textAlign: 'center', textVerticalAlign: 'top',
          },
        },
        {
          type: 'rect', z: 50, shape: { x: 745, y: 23, width: 17, height: 706 },
          style: { fill: 'none', stroke: '#777', lineWidth: 1 },
        },
      ],
    });
    return () => chart.dispose();
  }, []);
  return <div ref={ref} style={{ position: 'fixed', left: 0, top: 0, width: 786, height: 765, background: '#fff' }} />;
}
